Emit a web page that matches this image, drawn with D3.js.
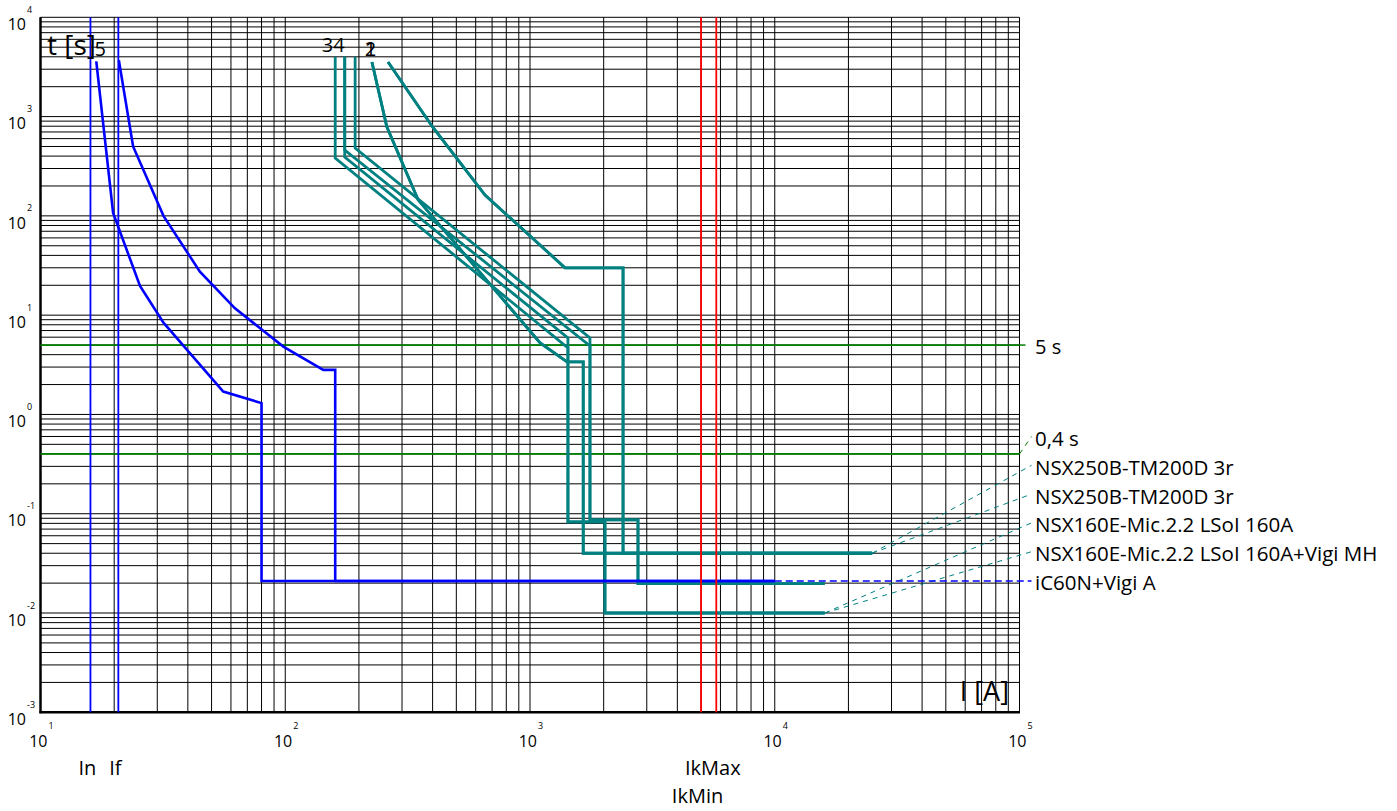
<!DOCTYPE html>
<html><head><meta charset="utf-8">
<script src="https://cdn.jsdelivr.net/npm/d3@7"></script>
<style>
body{margin:0;background:#fff;}
svg text{font-family:"Open Sans","Noto Sans",sans-serif;fill:#000;}
</style></head><body>
<svg id="c" width="1397" height="811"></svg>
<script>
// ---- data ----
const xDecades = [1, 2, 3, 4, 5];
const yDecades = [-3, -2, -1, 0, 1, 2, 3, 4];
const timeLines = [5, 0.4];                 // green horizontal lines [s]
const nominalCurrents = [16, 20.8];         // In, If (blue verticals)
const nominalNames = ["In", "If"];
const shortCircuit = [5000, 5770];          // IkMin, IkMax (red verticals)
const shortCircuitNames = ["IkMin", "IkMax"];
// curve 1/2 : NSX250B-TM200D (band, two lines, identical devices)
const tmUpper = [[263,3550],[400,786],[655,162],[1390,30],[2400,30],[2400,0.04],[25000,0.04]];
const tmLower = [[226,3550],[260,790],[349,145],[1100,5.25],[1417,3.38],[1650,3.38],[1650,0.04],[25000,0.04]];
// curve 3 : NSX160E-Mic.2.2 LSoI 160A
const c3Lower = [[160,4000],[160,383],[1429,4.68],[1429,0.0827],[2024,0.0827],[2024,0.01],[16000,0.01]];
const c3Upper = [[175,4000],[175,461],[1758,4.9],[1758,0.0866],[2762,0.0866],[2762,0.0198],[16000,0.0198]];
// curve 4 : NSX160E-Mic.2.2 LSoI 160A + Vigi MH
const c4Lower = [[175,4000],[175,392],[1429,5.89],[1429,0.0827],[2024,0.0827],[2024,0.01],[16000,0.01]];
const c4Upper = [[193,4000],[193,483],[1758,5.89],[1758,0.0866],[2762,0.0866],[2762,0.0198],[16000,0.0198]];
// curve 5 : iC60N + Vigi A
const b5Lower = [[16.9,3600],[19.8,107],[25.5,19.7],[31.8,8.4],[55.8,1.70],[80,1.30],[80,0.021],[10000,0.021]];
const b5Upper = [[20.9,3700],[23.9,500],[31.8,100],[44.8,27.4],[62.3,11.7],[98.2,4.82],[143,2.81],[160,2.81],[160,0.021],[10000,0.021]];
// curve number labels [text, I, t]
const curveNumbers = [["1",235,4075],["2",235,4075],["3",157,4475],["4",175,4475],["5",18.5,4075]];
// right legend
const legendNames = ["0,4 s","NSX250B-TM200D 3r","NSX250B-TM200D 3r","NSX160E-Mic.2.2 LSoI 160A","NSX160E-Mic.2.2 LSoI 160A+Vigi MH","iC60N+Vigi A"];
const legendFrom = [[1e5,0.4],[25000,0.04],[25000,0.04],[16000,0.01],[16000,0.01],[10000,0.021]];
const legendColors = ["#008000","#008080","#008080","#008080","#008080","#0000ff"];

// ---- layout ----
const svg = d3.select("#c");
const x = d3.scaleLog().domain([10, 1e5]).range([40.5, 1019.5]);
const y = d3.scaleLog().domain([1e-3, 1e4]).range([712.3, 17.3]);
const X0 = x.range()[0], X1 = x.range()[1], Y0 = y.range()[0], Y1 = y.range()[1];
const TEAL = "#008080", BLUE = "#0000ff", RED = "#ff0000", GREEN = "#008000";

// grid
const g = svg.append("g");
g.selectAll(".vx").data(x.ticks()).join("line")
  .attr("x1", d => x(d)).attr("x2", d => x(d)).attr("y1", Y1).attr("y2", Y0)
  .attr("stroke", "#000").attr("stroke-width", 1);
g.selectAll(".hy").data(y.ticks()).join("line")
  .attr("y1", d => y(d)).attr("y2", d => y(d)).attr("x1", X0).attr("x2", X1)
  .attr("stroke", "#000").attr("stroke-width", 1);
// frame
svg.append("line").attr("x1", X0).attr("x2", X0).attr("y1", Y1).attr("y2", Y0 + 1).attr("stroke", "#000").attr("stroke-width", 2.5);
svg.append("line").attr("x1", X0 - 1).attr("x2", X1 + 0.5).attr("y1", Y0).attr("y2", Y0).attr("stroke", "#000").attr("stroke-width", 2.5);

// tick labels
const yl = svg.append("g");
yDecades.forEach(e => {
  const yy = y(Math.pow(10, e));
  yl.append("text").attr("x", 26).attr("y", yy + 12.7).attr("text-anchor", "end").attr("font-size", 16).text("10");
  yl.append("text").attr("x", 27).attr("y", yy - 4.5).attr("font-size", 9).text(e);
});
xDecades.forEach(e => {
  const xx = x(Math.pow(10, e));
  yl.append("text").attr("x", xx + 7).attr("y", 746.5).attr("text-anchor", "end").attr("font-size", 16).text("10");
  yl.append("text").attr("x", xx + 8).attr("y", 729).attr("font-size", 9).text(e);
});

// green time lines
timeLines.forEach(t => {
  svg.append("line").attr("x1", X0).attr("x2", X1).attr("y1", y(t)).attr("y2", y(t))
    .attr("stroke", GREEN).attr("stroke-width", 1.8);
});

const line = d3.line().x(d => x(d[0])).y(d => y(d[1]));
function curve(data, color, w) {
  svg.append("path").attr("d", line(data)).attr("fill", "none")
    .attr("stroke", color).attr("stroke-width", w).attr("stroke-linejoin", "miter");
}
[tmUpper, tmLower, tmUpper, tmLower, c3Lower, c3Upper, c4Lower, c4Upper].forEach(c => curve(c, TEAL, 2.8));
[b5Lower, b5Upper].forEach(c => curve(c, BLUE, 2.6));

// vertical In / If
nominalCurrents.forEach((v, i) => {
  svg.append("line").attr("x1", x(v)).attr("x2", x(v)).attr("y1", Y1).attr("y2", Y0)
    .attr("stroke", BLUE).attr("stroke-width", 1.8);
  svg.append("text").attr("x", x(v) - 3).attr("y", 775).attr("text-anchor", "middle").attr("font-size", 20).text(nominalNames[i]);
});
// red IkMin / IkMax
shortCircuit.forEach((v, i) => {
  svg.append("line").attr("x1", x(v)).attr("x2", x(v)).attr("y1", Y1).attr("y2", Y0)
    .attr("stroke", RED).attr("stroke-width", 1.8);
  svg.append("text").attr("x", x(v) - 3.5).attr("y", i === 0 ? 803 : 775).attr("text-anchor", "middle").attr("font-size", 20).text(shortCircuitNames[i]);
});

// curve numbers
curveNumbers.forEach(d => {
  svg.append("text").attr("x", x(d[1])).attr("y", y(d[2])).attr("text-anchor", "end").attr("font-size", 20).text(d[0]);
});

// axis titles
svg.append("text").attr("x", 47).attr("y", 55).attr("font-size", 28).text("t [s]");
svg.append("text").attr("x", 1009).attr("y", 701).attr("text-anchor", "end").attr("font-size", 27).text("I [A]");

// right legend
const LX = X1 + 15.5;
// 5 s
svg.append("line").attr("x1", X1).attr("x2", X1 + 6).attr("y1", y(5)).attr("y2", y(5)).attr("stroke", GREEN).attr("stroke-width", 1.5);
svg.append("text").attr("x", LX).attr("y", y(5) + 9).attr("font-size", 20).text("5 s");
legendNames.forEach((n, i) => {
  const by = 446 + i * 28.8;
  const fx = x(legendFrom[i][0]), fy = y(legendFrom[i][1]);
  const ey = i === 5 ? fy : by - 9.5;
  svg.append("line").attr("x1", fx).attr("y1", fy).attr("x2", X1 + 12).attr("y2", ey)
    .attr("stroke", legendColors[i]).attr("stroke-width", i === 5 ? 1.5 : 1)
    .attr("stroke-dasharray", i === 5 ? "7,4" : "5,5");
  svg.append("text").attr("x", LX).attr("y", by).attr("font-size", 20.5).text(n);
});
</script>
</body></html>
